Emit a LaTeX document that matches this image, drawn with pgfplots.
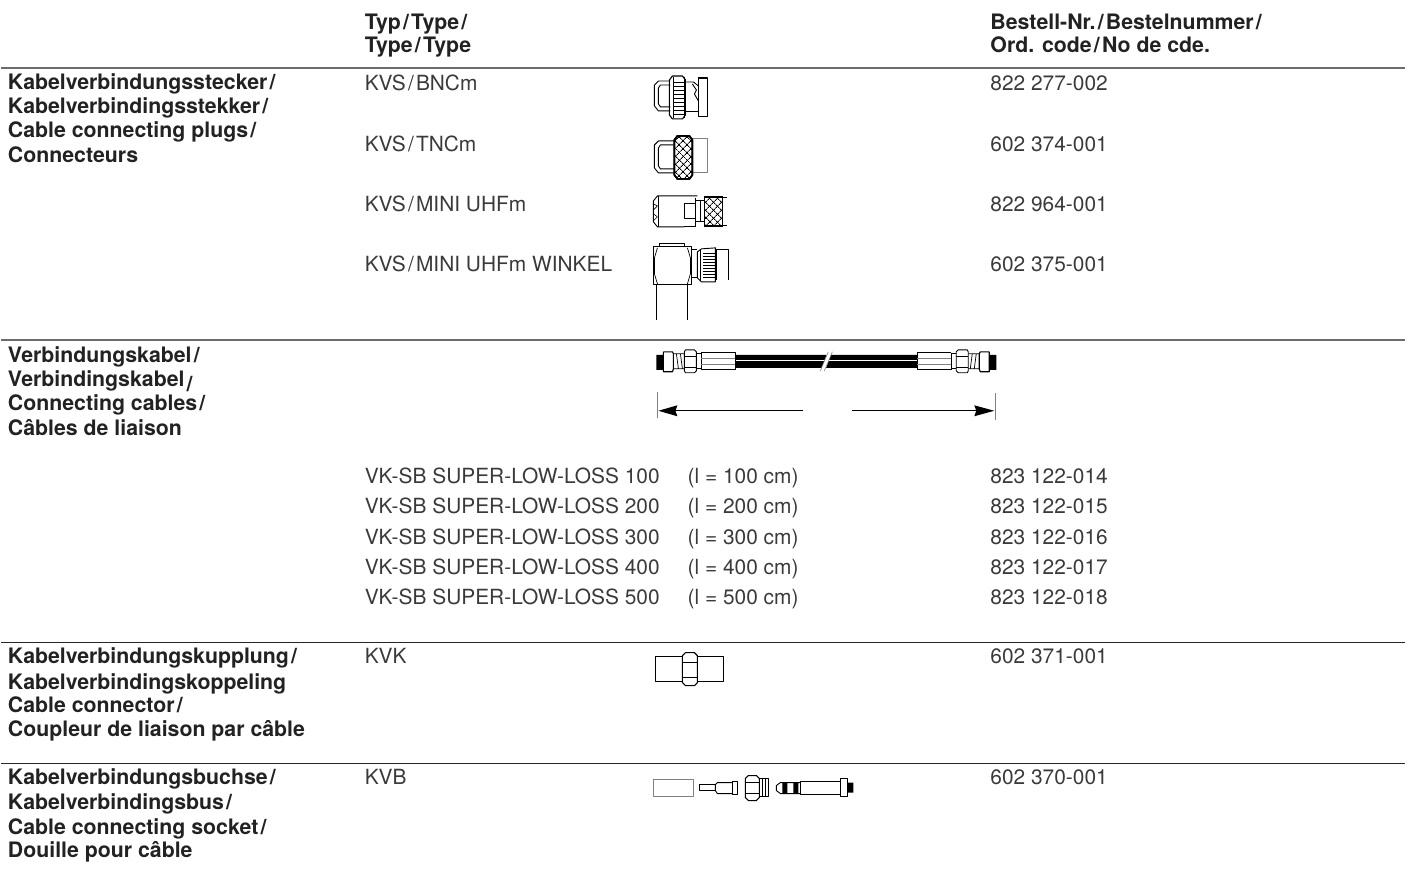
\documentclass[border=0pt]{standalone}
\usepackage{fontspec}
\setmainfont{TeX Gyre Heros}
\usepackage{pgfplots}
\pgfplotsset{compat=1.18}
\usetikzlibrary{patterns.meta}
\definecolor{txtb}{HTML}{222222}
\definecolor{txtr}{HTML}{3A3A3A}
\definecolor{rule}{HTML}{555555}
\newcommand{\sls}{\kern2.2pt/\kern2.2pt}
\newcommand{\B}[3]{\node[anchor=base west,inner sep=0pt,text=txtb,font=\fontsize{21.3}{24}\selectfont\bfseries] at (axis cs:#1,#2) {#3};}
\newcommand{\T}[3]{\node[anchor=base west,inner sep=0pt,text=txtr,font=\fontsize{20.9}{24}\selectfont] at (axis cs:#1,#2) {#3};}
\newcommand{\Ln}[2][]{\addplot[ol,#1] coordinates {#2};}
\tikzset{hatch/.style={fill=white,
  postaction={pattern={Lines[angle=45,distance=5.4pt,line width=0.9pt]}},
  postaction={pattern={Lines[angle=-45,distance=5.4pt,line width=0.9pt]}}}}
\begin{document}
\begin{tikzpicture}
\begin{axis}[hide axis,scale only axis,width=1414pt,height=879pt,
  xmin=0,xmax=1414,ymin=0,ymax=879,y dir=reverse,clip=false,no marks,
  unbounded coords=jump,
  ol/.style={black,line width=0.9pt,line join=round,solid,sharp plot},
  rl/.style={rule,line width=1.3pt}]

% keeps the page as large as the axis
\path (axis cs:0,0) -- (axis cs:1414,879);

% rules
\addplot[rl,line width=1.6pt,gray!85!black] coordinates {(0,68) (1405,68)};
\addplot[rl,line width=1.6pt,gray!85!black] coordinates {(0,340) (1405,340)};
\addplot[rl,line width=1pt,black!85] coordinates {(0,642.5) (1405,642.5)};
\addplot[rl,line width=1pt,black!85] coordinates {(0,763.5) (1405,763.5)};

% headers
\B{364}{29.3}{Typ\sls Type\sls}
\B{364}{52.7}{Type\sls Type}
\B{990}{29.3}{Bestell-Nr.\sls Bestelnummer\sls}
\B{990}{52.7}{Ord. code\sls No de cde.}

% group 1
\B{7}{90}{Kabelverbindungsstecker\sls}
\B{7}{114}{Kabelverbindingsstekker\sls}
\B{7}{138}{Cable connecting plugs\sls}
\B{7}{162.5}{Connecteurs}
\T{364}{90.7}{KVS\sls BNCm}
\T{364}{151.5}{KVS\sls TNCm}
\T{364}{212}{KVS\sls MINI UHFm}
\T{364}{272}{KVS\sls MINI UHFm WINKEL}
\T{990}{90.7}{822 277-002}
\T{990}{151.5}{602 374-001}
\T{990}{212}{822 964-001}
\T{990}{272}{602 375-001}

% group 2
\B{7}{363}{Verbindungskabel\sls}
\B{7}{386.7}{Verbindingskabel\kern2.2pt\raisebox{-5pt}{/}}
\B{7}{410.7}{Connecting cables\sls}
\B{7}{435.5}{Câbles de liaison}
\T{364}{484}{VK-SB SUPER-LOW-LOSS 100}
\T{364}{514}{VK-SB SUPER-LOW-LOSS 200}
\T{364}{545}{VK-SB SUPER-LOW-LOSS 300}
\T{364}{575}{VK-SB SUPER-LOW-LOSS 400}
\T{364}{605}{VK-SB SUPER-LOW-LOSS 500}
\T{687}{484}{(l = 100 cm)}
\T{687}{514}{(l = 200 cm)}
\T{687}{545}{(l = 300 cm)}
\T{687}{575}{(l = 400 cm)}
\T{687}{605}{(l = 500 cm)}
\T{990}{484}{823 122-014}
\T{990}{514}{823 122-015}
\T{990}{545}{823 122-016}
\T{990}{575}{823 122-017}
\T{990}{605}{823 122-018}

% group 3
\B{7}{664}{Kabelverbindungskupplung\sls}
\B{7}{690}{Kabelverbindingskoppeling}
\B{7}{713}{Cable connector\sls}
\B{7}{737}{Coupleur de liaison par câble}
\T{364}{664}{KVK}
\T{990}{664}{602 371-001}

% group 4
\B{7}{785}{Kabelverbindungsbuchse\sls}
\B{7}{810}{Kabelverbindingsbus\sls}
\B{7}{835}{Cable connecting socket\sls}
\B{7}{858}{Douille pour câble}
\T{364}{785}{KVB}
\T{990}{785}{602 370-001}

% BNC plug
\Ln{(670,81) (658,81) (654,85) (654,106) (658,111) (670,111)}
\Ln{(670,85) (660,85) (658,88) (658,104) (660,107) (670,107)}
\Ln{(685,82) (693,82) (698,86)}
\Ln{(685,112) (698,112)}
\Ln{(692,84) (696,90) (694,94) (698,101)}
\Ln[line width=1.1pt]{(698,78) (707,78) (707,117) (698,117) (698,78)}
\Ln[line width=1.1pt]{(669,80) (672,76) (682,76) (685,80) (685,115) (682,119) (672,119) (669,115) (669,80)}
\Ln{(673,77) (673,118)}
\Ln{(684,77) (684,118)}
\Ln[line width=0.6pt]{(673,82) (684,82) (nan,nan) (673,86) (684,86) (nan,nan) (673,90) (684,90) (nan,nan) (673,94) (684,94) (nan,nan) (673,98) (684,98) (nan,nan) (673,102) (684,102) (nan,nan) (673,106) (684,106) (nan,nan) (673,110) (684,110) (nan,nan) (673,114) (684,114)}

% TNC plug
\Ln{(674,141) (658,141) (654,145) (654,168) (658,173) (674,173)}
\Ln{(674,145) (660,145) (658,148) (658,166) (660,169) (674,169)}
\Ln[gray]{(692,139) (707,139) (707,173) (692,173)}
\addplot[hatch,draw=black,line width=1.5pt] coordinates {(674,140) (677,136) (689,136) (692,140) (692,175) (689,179) (677,179) (674,175) (674,140)};

% MINI UHF plug
\Ln{(697,196) (657,196) (653,201) (653,222) (657,227) (684,227)}
\Ln{(684,227) (695,227)}
\Ln{(658,196) (658,227)}
\Ln[line width=0.6pt]{(653,204) (657,206) (653,210) (nan,nan) (653,214) (657,217) (653,221)}
\Ln{(695,204) (684,204) (684,219) (695,219)}
\Ln{(695,198) (695,227)}
\Ln{(695,201) (704,201) (nan,nan) (695,222) (704,222) (nan,nan) (700,200) (700,222)}
\addplot[hatch,draw=black,line width=1.4pt] coordinates {(704,197) (722,197) (722,226) (704,226) (704,197)};
\Ln[line width=0.7pt]{(722,197) (727,197) (nan,nan) (722,225) (727,225)}

% MINI UHF angled
\Ln[line width=1.1pt]{(653,247) (691,247) (691,285) (653,285) (653,247)}
\Ln{(659,247) (659,244) (684,244) (684,247)}
\Ln[line width=0.7pt]{(657,248) (654,258) (654,274) (657,284)}
\Ln[line width=0.7pt]{(687,248) (690,258) (690,274) (687,284)}
\Ln{(656,285) (656,320) (nan,nan) (687,285) (687,320)}
\Ln{(691,250) (697,250) (nan,nan) (691,278) (697,278)}
\Ln{(697,252) (701,249) (715,248) (715,282) (701,282) (697,278) (697,252)}
\Ln[line width=0.6pt]{(700,250) (700,281)}
\Ln[line width=0.6pt]{(703,253) (715,253) (nan,nan) (703,256) (715,256) (nan,nan) (703,259) (715,259) (nan,nan) (703,262) (715,262) (nan,nan) (703,265) (715,265) (nan,nan) (703,268) (715,268) (nan,nan) (703,271) (715,271) (nan,nan) (703,274) (715,274) (nan,nan) (703,277) (715,277)}
\Ln[line width=0.7pt]{(715,249) (728,249) (728,280) (nan,nan) (716,250) (716,280)}

% cable
\addplot[fill=black,draw=none] coordinates {(735,355) (917,355) (917,368) (735,368) (735,355)};
\addplot[white,line width=1.2pt] coordinates {(735,361) (917,361)};
\addplot[white,line width=4pt] coordinates {(822,372) (830,351)};
\Ln[line width=0.6pt,gray]{(820,371) (828,352)}
\Ln[line width=0.6pt,gray]{(824,371) (832,352)}
% left end
\addplot[fill=black,draw=none] coordinates {(656,355) (663,355) (663,370) (656,370) (656,355)};
\Ln[line width=1.1pt]{(663,352) (672,352) (673,354) (673,369) (672,372) (663,372) (663,352)}
\Ln[line width=0.7pt]{(673,354) (684,354) (nan,nan) (673,369) (684,369) (nan,nan) (676,354) (678,369) (nan,nan) (680,354) (682,369)}
\Ln{(685,350) (694,350) (696,352) (696,371) (694,373) (685,373) (684,371) (684,352) (685,350)}
\Ln[line width=0.6pt]{(684,356) (696,356) (nan,nan) (684,367) (696,367)}
\Ln[line width=0.7pt]{(696,354) (701,354) (nan,nan) (696,369) (701,369)}
\Ln[line width=0.8pt]{(701,353) (735,353) (735,370) (701,370) (701,353)}
\Ln[line width=0.5pt,gray]{(701,358) (735,358) (nan,nan) (701,364) (735,364)}
% right end
\addplot[fill=black,draw=none] coordinates {(989,355) (996,355) (996,370) (989,370) (989,355)};
\Ln[line width=1.1pt]{(989,352) (980,352) (979,354) (979,369) (980,372) (989,372) (989,352)}
\Ln[line width=0.7pt]{(979,354) (968,354) (nan,nan) (979,369) (968,369) (nan,nan) (976,354) (974,369) (nan,nan) (972,354) (970,369)}
\Ln{(967,350) (958,350) (956,352) (956,371) (958,373) (967,373) (968,371) (968,352) (967,350)}
\Ln[line width=0.6pt]{(968,356) (956,356) (nan,nan) (968,367) (956,367)}
\Ln[line width=0.7pt]{(956,354) (951,354) (nan,nan) (956,369) (951,369)}
\Ln[line width=0.8pt]{(951,353) (917,353) (917,370) (951,370) (951,353)}
\Ln[line width=0.5pt,gray]{(951,358) (917,358) (nan,nan) (951,364) (917,364)}

% length arrow
\Ln[gray,line width=0.8pt]{(656.5,392) (656.5,418)}
\Ln[gray,line width=0.8pt]{(995,393) (995,420)}
\Ln[line width=0.8pt]{(670,411) (803,411)}
\Ln[line width=0.8pt]{(852,411) (980,411)}
\addplot[fill=black,draw=none] coordinates {(658,411) (677,405.5) (675,411) (677,416.5) (658,411)};
\addplot[fill=black,draw=none] coordinates {(994,411) (974,405.5) (976,411) (974,416.5) (994,411)};

% KVK coupler
\Ln{(682,657) (655,657) (655,682) (682,682)}
\Ln{(697,657) (723,657) (723,682) (697,682)}
\Ln[line width=1.1pt]{(685,653) (694,653) (697,656) (697,683) (694,686) (685,686) (682,683) (682,656) (685,653)}
\Ln[line width=0.8pt]{(682,663) (697,663) (nan,nan) (682,678) (697,678)}

% KVB parts
\Ln[gray,line width=1pt]{(653,780) (693,780) (693,797) (653,797) (653,780)}
\Ln{(715,785) (699,785) (699,791) (715,791)}
\Ln{(732,783) (717,783) (715,785) (715,791) (717,794) (732,794)}
\Ln{(732,782) (737,782) (737,795) (732,795) (732,782)}
\Ln[line width=1.1pt]{(748,776) (756,776) (759,779) (759,798) (756,801) (748,801) (745,798) (745,779) (748,776)}
\Ln[line width=0.7pt]{(745,783) (759,783) (nan,nan) (745,794) (759,794)}
\Ln{(759,779) (768,779) (768,797) (759,797)}
\Ln[line width=0.7pt]{(762,779) (762,797) (nan,nan) (765,779) (765,797)}
\Ln{(800,783) (780,783) (776,786) (776,791) (780,794) (800,794)}
\addplot[fill=black,draw=none] coordinates {(782,783) (787,783) (787,794) (782,794) (782,783)};
\addplot[fill=black,draw=none] coordinates {(793,783) (798,783) (798,794) (793,794) (793,783)};
\Ln{(800,782) (840,782) (nan,nan) (800,795) (840,795) (nan,nan) (800,782) (800,795)}
\Ln{(840,779) (847,779) (847,797) (840,797) (840,779)}
\addplot[fill=black,draw=none] coordinates {(847,783) (853,783) (853,793) (847,793) (847,783)};

\end{axis}
\end{tikzpicture}
\end{document}
